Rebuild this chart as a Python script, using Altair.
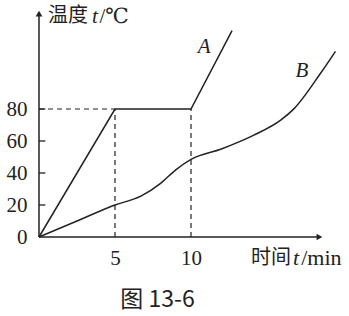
import altair as alt
import pandas as pd

# Line A (time in min, temperature in °C)
a_t = [0, 5, 10, 12.7]
a_T = [0, 80, 80, 129]
# Line B
b_t = [0, 2.5, 5, 6.7, 8, 9, 10, 12, 14.1, 15.9, 16.8, 18.5, 19.5]
b_T = [0, 10, 20, 25.5, 33.5, 42, 48.5, 55, 63.5, 73, 80.4, 102, 116]
# dashed guides
g_x = [0, 5, 10]
g_x2 = [5, 5, 10]
g_y = [80, 0, 0]
g_y2 = [80, 80, 80]
y_ticks = [0, 20, 40, 60, 80]
x_ticks = [5, 10]
y_tick_marks = [20, 40, 60, 80]
series_labels = ["A", "B"]
label_t = [10.87, 17.3]
label_T = [119.0, 103.5]

X_MAX = 20
Y_MAX = 145
INK = "#222222"
SERIF = "Liberation Serif, DejaVu Serif, serif"
CJK = "Noto Sans CJK SC"

xs = alt.Scale(domain=[0, X_MAX], nice=False, zero=False)
ys = alt.Scale(domain=[0, Y_MAX], nice=False, zero=False)
xaxis = alt.Axis(values=x_ticks, ticks=False, domain=False, grid=False, title=None,
                 labelFont=SERIF, labelFontSize=21, labelPadding=10,
                 labelColor=INK)
yaxis = alt.Axis(values=y_ticks, ticks=False, domain=False, grid=False, title=None,
                 labelFont=SERIF, labelFontSize=21, labelPadding=12,
                 labelColor=INK)

def X(f="t"):
    return alt.X(f, type="quantitative", scale=xs, axis=xaxis)

def Y(f="T"):
    return alt.Y(f, type="quantitative", scale=ys, axis=yaxis)

dfA = pd.DataFrame({"t": a_t, "T": a_T, "o": range(len(a_t))})
dfB = pd.DataFrame({"t": b_t, "T": b_T, "o": range(len(b_t))})
dfG = pd.DataFrame({"t": g_x, "t2": g_x2, "T": g_y, "T2": g_y2})
dfTick = pd.DataFrame({"t": [0] * len(y_tick_marks), "t2": [0.42] * len(y_tick_marks),
                       "T": y_tick_marks})
dfAxX = pd.DataFrame({"t": [0], "t2": [18.4], "T": [0]})
dfAxY = pd.DataFrame({"t": [0], "T": [0], "T2": [139]})
dfArrX = pd.DataFrame({"t": [18.45], "T": [0]})
dfArrY = pd.DataFrame({"t": [0], "T": [139.6]})
dfLab = pd.DataFrame({"t": label_t, "T": label_T, "s": series_labels})

lineA = alt.Chart(dfA).mark_line(color=INK, strokeWidth=1.5).encode(
    x=X(), y=Y(), order="o:Q")
lineB = alt.Chart(dfB).mark_line(color=INK, strokeWidth=1.5, interpolate="monotone").encode(
    x=X(), y=Y(), order="o:Q")
guides = alt.Chart(dfG).mark_rule(color=INK, strokeWidth=1.2, strokeDash=[5, 4]).encode(
    x=X(), x2="t2", y=Y(), y2="T2")
ticks = alt.Chart(dfTick).mark_rule(color=INK, strokeWidth=1.3).encode(
    x=X(), x2="t2", y=Y())
axX = alt.Chart(dfAxX).mark_rule(color=INK, strokeWidth=1.5).encode(x=X(), x2="t2", y=Y())
axY = alt.Chart(dfAxY).mark_rule(color=INK, strokeWidth=1.5).encode(x=X(), y=Y(), y2="T2")
arrX = alt.Chart(dfArrX).mark_point(shape="triangle-right", filled=True, size=45,
                                    color=INK, opacity=1).encode(x=X(), y=Y())
arrY = alt.Chart(dfArrY).mark_point(shape="triangle-up", filled=True, size=45,
                                    color=INK, opacity=1).encode(x=X(), y=Y())
labels = alt.Chart(dfLab).mark_text(font=SERIF, fontStyle="italic",
                                    fontSize=21, color=INK).encode(
    x=X(), y=Y(), text="s:N")


def txt(t, T, s, font, size, style="normal", align="left"):
    return alt.Chart(pd.DataFrame({"t": [t], "T": [T], "s": [s]})).mark_text(
        font=font, fontSize=size, fontStyle=style, align=align, baseline="middle",
        color=INK
    ).encode(x=X(), y=Y(), text="s:N")

# axis titles: "温度t/℃" and "时间t/min"
ytitle = [
    txt(0.59, 138.1, "温度", CJK, 20),
    txt(3.49, 137.8, "t", SERIF, 21, "italic"),
    txt(3.98, 137.8, "/℃", SERIF, 21),
]
xtitle = [
    txt(13.95, -13.1, "时间", CJK, 20),
    txt(16.71, -13.4, "t", SERIF, 22, "italic"),
    txt(17.25, -13.4, "/min", SERIF, 22),
]
caption = txt(7.8, -39.5, "图 13-6", CJK, 23, align="center")

chart = alt.layer(
    guides, ticks, axX, axY, arrX, arrY, lineA, lineB, labels,
    *ytitle, *xtitle, caption
).properties(
    width=304, height=232,
    autosize=alt.AutoSizeParams(type="none"),
    padding={"left": 39, "top": 5, "right": 6, "bottom": 79},
    background="white",
).configure_view(stroke=None)

chart.save("out.html", embed_options={"renderer": "svg", "actions": False})
